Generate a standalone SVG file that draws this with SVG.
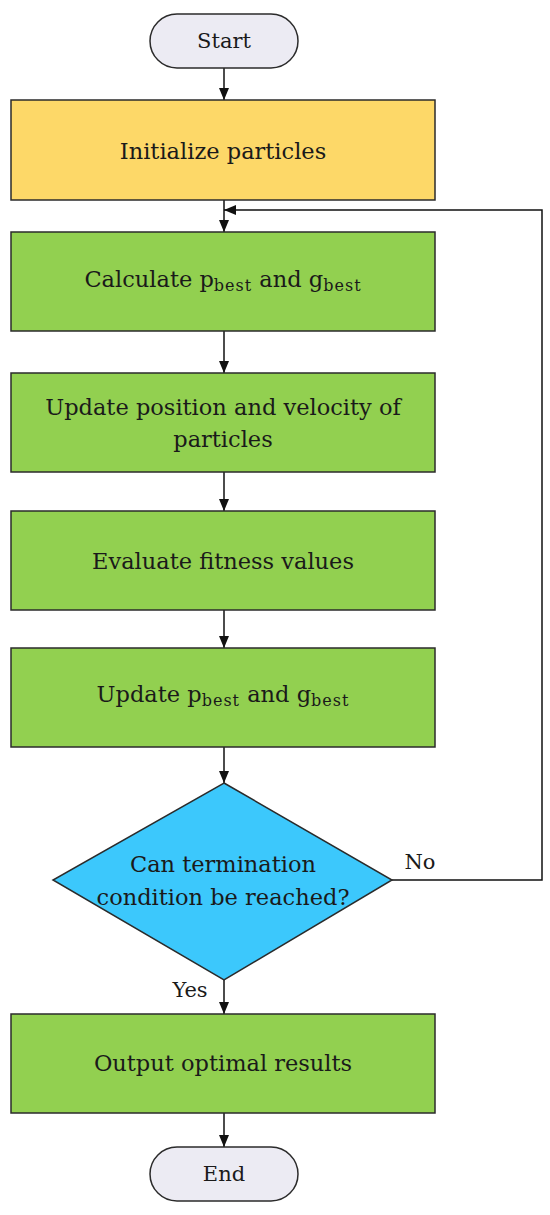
<svg xmlns="http://www.w3.org/2000/svg" width="550" height="1215" viewBox="0 0 550 1215">
<style>
text{font-family:"DejaVu Serif","Liberation Serif",serif;font-size:22.5px;fill:#1a1a1a;text-anchor:middle;dominant-baseline:central}
.t{font-size:21px}
.sub{font-size:16px;letter-spacing:1px}
.box{stroke:#2b2b2b;stroke-width:1.5}
.green{fill:#92D050}
.term{fill:#ECEBF3;stroke:#2b2b2b;stroke-width:1.5}
.conn{stroke:#111;stroke-width:1.5;fill:none}
</style>
<defs>
<marker id="ah" viewBox="0 0 12 10" refX="12" refY="5" markerWidth="12" markerHeight="10" markerUnits="userSpaceOnUse" orient="auto">
<path d="M0,0 L12,5 L0,10 z" fill="#111"/>
</marker>
</defs>
<rect width="550" height="1215" fill="#fff"/>
<g id="connectors">
<line class="conn" x1="224" y1="68" x2="224" y2="100" marker-end="url(#ah)"/>
<line class="conn" x1="224" y1="200" x2="224" y2="232" marker-end="url(#ah)"/>
<line class="conn" x1="224" y1="331" x2="224" y2="373" marker-end="url(#ah)"/>
<line class="conn" x1="224" y1="472" x2="224" y2="511" marker-end="url(#ah)"/>
<line class="conn" x1="224" y1="610" x2="224" y2="648" marker-end="url(#ah)"/>
<line class="conn" x1="224" y1="747" x2="224" y2="783" marker-end="url(#ah)"/>
<line class="conn" x1="224" y1="980" x2="224" y2="1014" marker-end="url(#ah)"/>
<line class="conn" x1="224" y1="1113" x2="224" y2="1147" marker-end="url(#ah)"/>
<polyline class="conn" points="392,880 542,880 542,210 224,210" marker-end="url(#ah)"/>
<text class="t" x="420" y="862">No</text>
<text class="t" x="190" y="990">Yes</text>
</g>
<g id="start">
<rect class="term" x="150" y="14" width="148" height="54" rx="27"/>
<text class="t" x="224" y="41">Start</text>
</g>
<g id="init">
<rect class="box" x="11" y="100" width="424" height="100" fill="#FDD868"/>
<text x="223" y="151">Initialize particles</text>
</g>
<g id="calc">
<rect class="box green" x="11" y="232" width="424" height="99"/>
<text x="223" y="279">Calculate p<tspan class="sub" dy="6">best</tspan><tspan dy="-6"> and g</tspan><tspan class="sub" dy="6">best</tspan></text>
</g>
<g id="update-pos">
<rect class="box green" x="11" y="373" width="424" height="99"/>
<text x="223" y="407">Update position and velocity of</text>
<text x="223" y="439">particles</text>
</g>
<g id="evaluate">
<rect class="box green" x="11" y="511" width="424" height="99"/>
<text x="223" y="561">Evaluate fitness values</text>
</g>
<g id="update-best">
<rect class="box green" x="11" y="648" width="424" height="99"/>
<text x="223" y="694">Update p<tspan class="sub" dy="6">best</tspan><tspan dy="-6"> and g</tspan><tspan class="sub" dy="6">best</tspan></text>
</g>
<g id="decision">
<polygon class="box" points="224,783 392,880 224,980 53,880" fill="#3CC8FC"/>
<text x="223" y="864">Can termination</text>
<text x="223" y="897">condition be reached?</text>
</g>
<g id="output">
<rect class="box green" x="11" y="1014" width="424" height="99"/>
<text x="223" y="1063">Output optimal results</text>
</g>
<g id="end">
<rect class="term" x="150" y="1147" width="148" height="54" rx="27"/>
<text class="t" x="224" y="1174">End</text>
</g>
</svg>
